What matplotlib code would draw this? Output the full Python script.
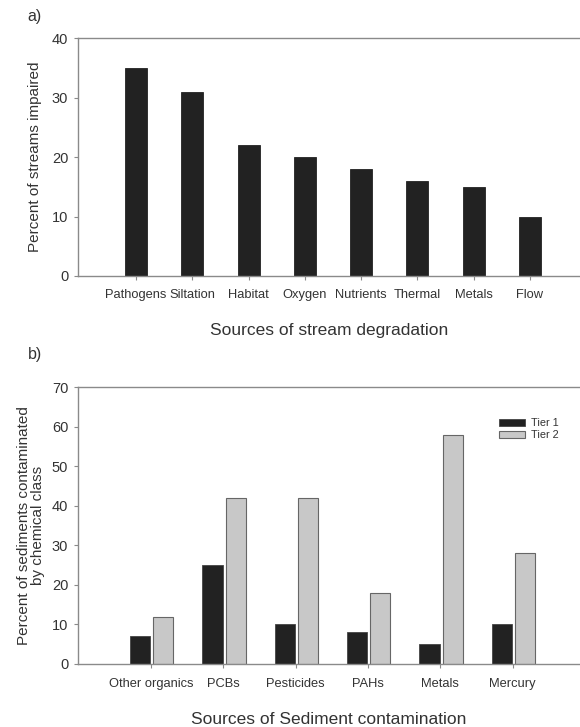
import matplotlib
matplotlib.use('Agg')
import matplotlib.pyplot as plt
import numpy as np

# Panel a - stream impairment
stream_sources = ['Pathogens', 'Siltation', 'Habitat', 'Oxygen', 'Nutrients', 'Thermal', 'Metals', 'Flow']
stream_pct = [35, 31, 22, 20, 18, 16, 15, 10]
stream_yticks = [0, 10, 20, 30, 40]

# Panel b - sediment contamination
sed_sources = ['Other organics', 'PCBs', 'Pesticides', 'PAHs', 'Metals', 'Mercury']
tier1_pct = [7, 25, 10, 8, 5, 10]
tier2_pct = [12, 42, 42, 18, 58, 28]
sed_yticks = [0, 10, 20, 30, 40, 50, 60, 70]

plt.rcParams['font.family'] = ['Liberation Sans', 'DejaVu Sans']
txt_col = '#333333'
spine_col = '#8a8a8a'

fig = plt.figure(figsize=(5.8, 7.27), dpi=100)
fig.patch.set_facecolor('white')


def style_axes(ax):
    for side in ['left', 'top', 'bottom']:
        ax.spines[side].set_color(spine_col)
        ax.spines[side].set_linewidth(1.0)
    ax.spines['right'].set_visible(False)
    ax.tick_params(axis='both', direction='out', length=3, width=0.8,
                   color=spine_col, labelcolor=txt_col)
    ax.tick_params(axis='y', labelsize=10.5, pad=4)


# a) bars
ax1 = fig.add_axes([0.1345, 0.6204, 0.8655, 0.3269])
x1 = np.arange(len(stream_sources))
ax1.bar(x1, stream_pct, width=0.39, color='#222222', edgecolor='#222222', linewidth=0.6)
ax1.set_xlim(-1.03, 7.89)
ax1.set_ylim(0, 40)
ax1.set_yticks(stream_yticks)
ax1.set_xticks(x1)
ax1.set_xticklabels(stream_sources)
style_axes(ax1)
ax1.tick_params(axis='x', labelsize=9.3, pad=6.5)
ax1.set_ylabel('Percent of streams impaired', fontsize=11, color=txt_col, labelpad=7)
ax1.set_xlabel('Sources of stream degradation', fontsize=12.5, color=txt_col, labelpad=16)
fig.text(0.048, 0.977, 'a)', fontsize=11.5, color=txt_col, va='center')

# b) grouped bars
ax2 = fig.add_axes([0.1345, 0.0867, 0.8655, 0.3806])
x2 = np.arange(len(sed_sources))
bw = 0.28
ax2.bar(x2 - bw / 2 - 0.01, tier1_pct, width=bw, color='#222222', edgecolor='#444444',
        linewidth=0.6, label='Tier 1')
ax2.bar(x2 + bw / 2 + 0.03, tier2_pct, width=bw, color='#c8c8c8', edgecolor='#666666',
        linewidth=0.8, label='Tier 2')
ax2.set_xlim(-1.01, 5.93)
ax2.set_ylim(0, 70)
ax2.set_yticks(sed_yticks)
ax2.set_xticks(x2)
ax2.set_xticklabels(sed_sources)
style_axes(ax2)
ax2.tick_params(axis='x', labelsize=9.3, pad=7)
ax2.set_ylabel('Percent of sediments contaminated\nby chemical class', fontsize=11,
               color=txt_col, labelpad=5, linespacing=1.0)
ax2.set_xlabel('Sources of Sediment contamination', fontsize=12.5, color=txt_col, labelpad=16)
fig.text(0.048, 0.513, 'b)', fontsize=11.5, color=txt_col, va='center')

leg = ax2.legend(loc='upper left', bbox_to_anchor=(0.83, 0.905), frameon=False, fontsize=7.8,
                 handlelength=2.4, handleheight=0.6, handletextpad=0.6, labelspacing=0.2,
                 borderaxespad=0)
for t in leg.get_texts():
    t.set_color(txt_col)

fig.savefig('out.png', dpi=100)
